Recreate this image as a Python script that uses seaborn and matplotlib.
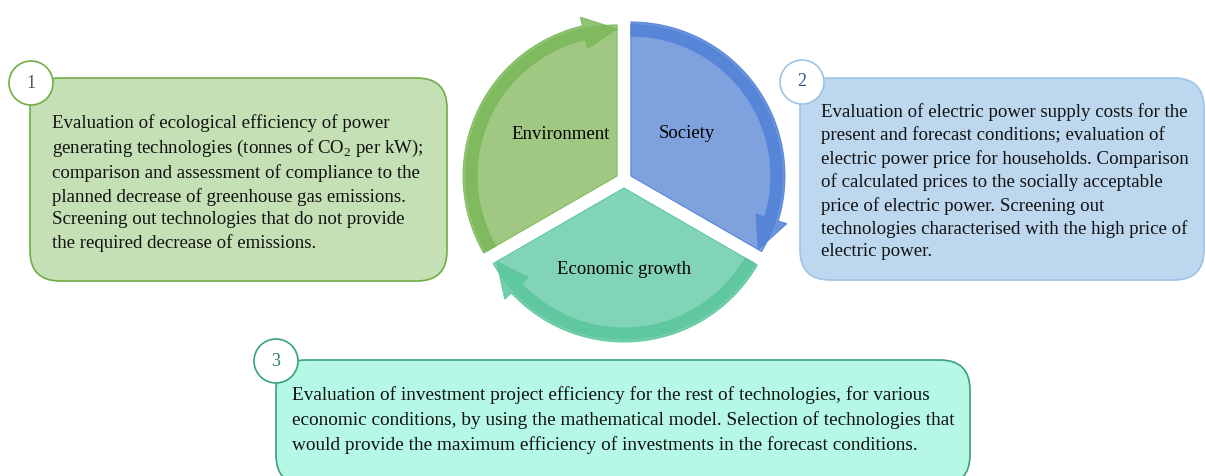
import numpy as np
import matplotlib
matplotlib.use("Agg")
import matplotlib.pyplot as plt
import seaborn as sns
from matplotlib.patches import Polygon, FancyBboxPatch, Circle

sns.set_theme(style="white")
plt.rcParams["font.family"] = ["Liberation Serif", "DejaVu Serif"]
plt.rcParams["mathtext.fontset"] = "custom"
plt.rcParams["mathtext.rm"] = "Liberation Serif"

# cycle segments (clockwise, starting at top)
segments = ["Society", "Economic growth", "Environment"]
shares = [1, 1, 1]
fill_colors = ["#789ddd", "#7bd2b4", "#9cc57c"]
band_colors = ["#5181d8", "#5bc69c", "#7bb858"]

# numbered step boxes
step_numbers = ["1", "2", "3"]
step_texts = [
    "Evaluation of ecological efficiency of power\n"
    "generating technologies (tonnes of CO$_{\\rm 2}$ per kW);\n"
    "comparison and assessment of compliance to the\n"
    "planned decrease of greenhouse gas emissions.\n"
    "Screening out technologies that do not provide\n"
    "the required decrease of emissions.",
    "Evaluation of electric power supply costs for the\n"
    "present and forecast conditions; evaluation of\n"
    "electric power price for households. Comparison\n"
    "of calculated prices to the socially acceptable\n"
    "price of electric power. Screening out\n"
    "technologies characterised with the high price of\n"
    "electric power.",
    "Evaluation of investment project efficiency for the rest of technologies, for various\n"
    "economic conditions, by using the mathematical model. Selection of technologies that\n"
    "would provide the maximum efficiency of investments in the forecast conditions.",
]
box_fills = ["#c5e0b4", "#bdd7ee", "#b4f8e5"]
box_edges = ["#70ad47", "#9dc3e6", "#3aa07e"]
num_colors = ["#555555", "#2f5597", "#2e7d63"]


def pt(cx, cy, r, a):
    a = np.deg2rad(a)
    return (cx + r * np.cos(a), cy - r * np.sin(a))


fig = plt.figure(figsize=(12.05, 4.76), dpi=100)
ax = fig.add_axes([0, 0, 1, 1])
ax.set_xlim(0, 1205)
ax.set_ylim(476, 0)
ax.axis("off")

# ---- cycle diagram ----
cx0, cy0 = 624, 180
gap = 8
r_fill, r_in, r_out = 151, 140, 154
head = 13
start = 90.0
span_total = 360.0
label_shift = {"Society": 7, "Environment": -6, "Economic growth": 0}
for name, share, fc, bc in zip(segments, shares, fill_colors, band_colors):
    span = span_total * share / sum(shares)
    a0, a1 = start, start - span
    mid = (a0 + a1) / 2
    cx, cy = pt(cx0, cy0, gap, mid)
    arc = np.linspace(a0, a1, 80)
    wedge = [(cx, cy)] + [pt(cx, cy, r_fill, a) for a in arc]
    ax.add_patch(Polygon(wedge, closed=True, fc=fc, ec=bc, lw=0.8, alpha=0.95, zorder=2))
    # arrow band along the outer edge
    body = np.linspace(a0, a1 + head, 80)
    poly = [pt(cx, cy, r_out, a) for a in body]
    poly += [pt(cx, cy, r_out + 9, a1 + head),
             pt(cx, cy, (r_in + r_out) / 2, a1),
             pt(cx, cy, r_in - 9, a1 + head)]
    poly += [pt(cx, cy, r_in, a) for a in body[::-1]]
    ax.add_patch(Polygon(poly, closed=True, fc=bc, ec=bc, lw=0.8, alpha=0.85, zorder=3))
    # label
    r_lab = 82 if name == "Economic growth" else 70
    lx, ly = pt(cx, cy, r_lab, mid + label_shift[name])
    ax.text(lx, ly, name, ha="center", va="center", fontsize=13.5, color="black", zorder=4)
    start = a1

# ---- step boxes ----
boxes = [(30, 78, 417, 203), (800, 78, 404, 202), (276, 360, 694, 125)]
circles = [(31, 83), (802, 82), (276, 361)]
text_pos = [(52, 114), (821, 103), (292, 386)]
font_sizes = [13.6, 13.6, 13.9]
spacing = [1.4, 1.4, 1.52]
for num, txt, bf, be, nc, (x, y, w, h), (ccx, ccy), (tx, ty), fs, ls in zip(
        step_numbers, step_texts, box_fills, box_edges, num_colors,
        boxes, circles, text_pos, font_sizes, spacing):
    ax.add_patch(FancyBboxPatch((x, y), w, h, boxstyle="round,pad=0,rounding_size=30",
                                fc=bf, ec=be, lw=1.2, zorder=1))
    ax.add_patch(Circle((ccx, ccy), 22, fc="white", ec=be, lw=1.2, zorder=5))
    ax.text(ccx, ccy, num, ha="center", va="center", fontsize=13, color=nc, zorder=6)
    ax.text(tx, ty, txt, ha="left", va="top", fontsize=fs, color="#111111",
            linespacing=ls, zorder=6)

plt.savefig("out.png", dpi=100)
plt.close()
